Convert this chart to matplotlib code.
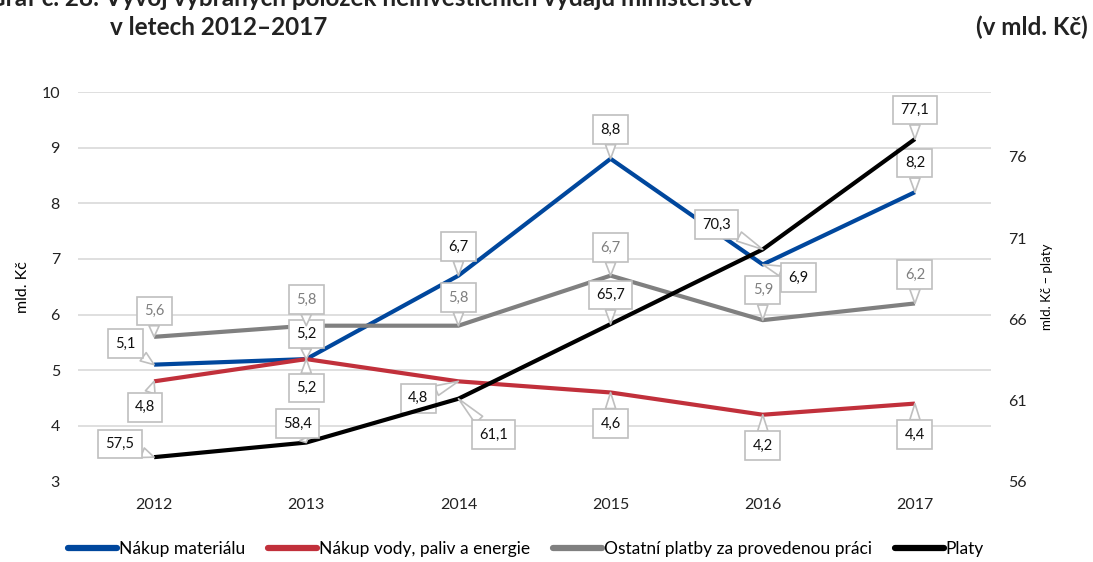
import matplotlib
matplotlib.use("Agg")
import matplotlib.pyplot as plt
from matplotlib.lines import Line2D

plt.rcParams['font.family'] = ['Lato', 'DejaVu Sans']

years = ['2012', '2013', '2014', '2015', '2016', '2017']
material = [5.1, 5.2, 6.7, 8.8, 6.9, 8.2]
energie = [4.8, 5.2, 4.8, 4.6, 4.2, 4.4]
ostatni = [5.6, 5.8, 5.8, 6.7, 5.9, 6.2]
platy = [57.5, 58.4, 61.1, 65.7, 70.3, 77.1]

names = ['Nákup materiálu', 'Nákup vody, paliv a energie',
         'Ostatní platby za provedenou práci', 'Platy']
colors = ['#00479d', '#c1303b', '#808080', '#000000']

# label offsets in pixels (dx, dy up)
off_mat = [(-29, 21), (0, 25), (0, 29), (0, 29), (36, -13), (0, 29)]
off_ene = [(-9, -26), (0, -29), (-40, -17), (0, -31), (0, -31), (0, -31)]
off_ost = [(0, 26), (0, 26), (0, 28), (0, 28), (0, 30), (0, 29)]
off_pla = [(-34, 13), (-9, 19), (35, -36), (0, 29), (-46, 25), (0, 29)]

W, H = 1093, 562
fig = plt.figure(figsize=(W / 100, H / 100), dpi=100)
AX_L, AX_R = 78, 991
ax = fig.add_axes([AX_L / W, 1 - 481.5 / H, (AX_R - AX_L) / W, (481.5 - 92) / H])
ax2 = ax.twinx()

x = list(range(len(years)))
ax.set_xlim(-0.5, len(years) - 0.5)
ax.set_ylim(3, 10)
ax2.set_ylim(56, 80)
ax.set_yticks(range(3, 11))
ax2.set_yticks([56, 61, 66, 71, 76])
ax.set_xticks(x)
ax.set_xticklabels(years)

for a in (ax, ax2):
    for s in a.spines.values():
        s.set_visible(False)
    a.tick_params(length=0, labelsize=11.5, colors='#222222')
ax.tick_params(axis='x', pad=12)
ax.tick_params(axis='y', pad=13)
ax2.tick_params(axis='y', pad=12.5)

for yv in range(4, 11):
    ax.axhline(yv, color='#d9d9d9', lw=1.2, zorder=0)

for vals, c in [(material, colors[0]), (energie, colors[1]), (ostatni, colors[2])]:
    ax.plot(x, vals, color=c, lw=3, zorder=3, solid_capstyle='butt')
ax2.plot(x, platy, color=colors[3], lw=3, zorder=3, solid_capstyle='butt')


def labels(a, vals, offs, tcolor):
    for xi, v, (dx, dy) in zip(x, vals, offs):
        txt = f"{v:.1f}".replace('.', ',')
        a.annotate(txt, (xi, v), xytext=(dx, dy), textcoords='offset pixels',
                   ha='center', va='center', fontsize=10.5, color=tcolor, zorder=6,
                   bbox=dict(boxstyle='square,pad=0.5', fc='white', ec='#bfbfbf', lw=1.2),
                   arrowprops=dict(arrowstyle='wedge,tail_width=0.7,shrink_factor=0.5',
                                   fc='white', ec='#bfbfbf', lw=1.2,
                                   shrinkA=0, shrinkB=0))


labels(ax, material, off_mat, '#111111')
labels(ax, energie, off_ene, '#111111')
labels(ax, ostatni, off_ost, '#7f7f7f')
labels(ax2, platy, off_pla, '#111111')
ax2.set_zorder(ax.get_zorder() + 1)
ax2.patch.set_visible(False)

ax.set_ylabel('mld. Kč', fontsize=11.5)
ax.yaxis.set_label_coords((30 - AX_L) / (AX_R - AX_L), 0.5)
ax2.set_ylabel('mld. Kč – platy', fontsize=9.5)
ax2.yaxis.set_label_coords((1041 - AX_L) / (AX_R - AX_L), 0.5)

fig.text(-12 / W, 1 - 6 / H,
         'Graf č. 28: Vývoj vybraných položek neinvestičních výdajů ministerstev',
         fontsize=17.5, fontweight='bold', ha='left', va='baseline', color='#222222')
fig.text(110 / W, 1 - 35 / H, 'v letech 2012–2017', fontsize=17.5, fontweight='bold',
         ha='left', va='baseline', color='#222222')
fig.text(1088 / W, 1 - 35 / H, '(v mld. Kč)', fontsize=17.5, fontweight='bold',
         ha='right', va='baseline', color='#222222')

handles = [Line2D([], [], color=c, lw=4.5, solid_capstyle='round') for c in colors]
fig.legend(handles=handles, labels=names, loc='center', bbox_to_anchor=(526 / W, 1 - 549 / H),
           ncol=4, frameon=False, fontsize=12.5, handlelength=2.85, handletextpad=0.1,
           columnspacing=1.3, borderpad=0)

fig.savefig('out.png', dpi=100)
